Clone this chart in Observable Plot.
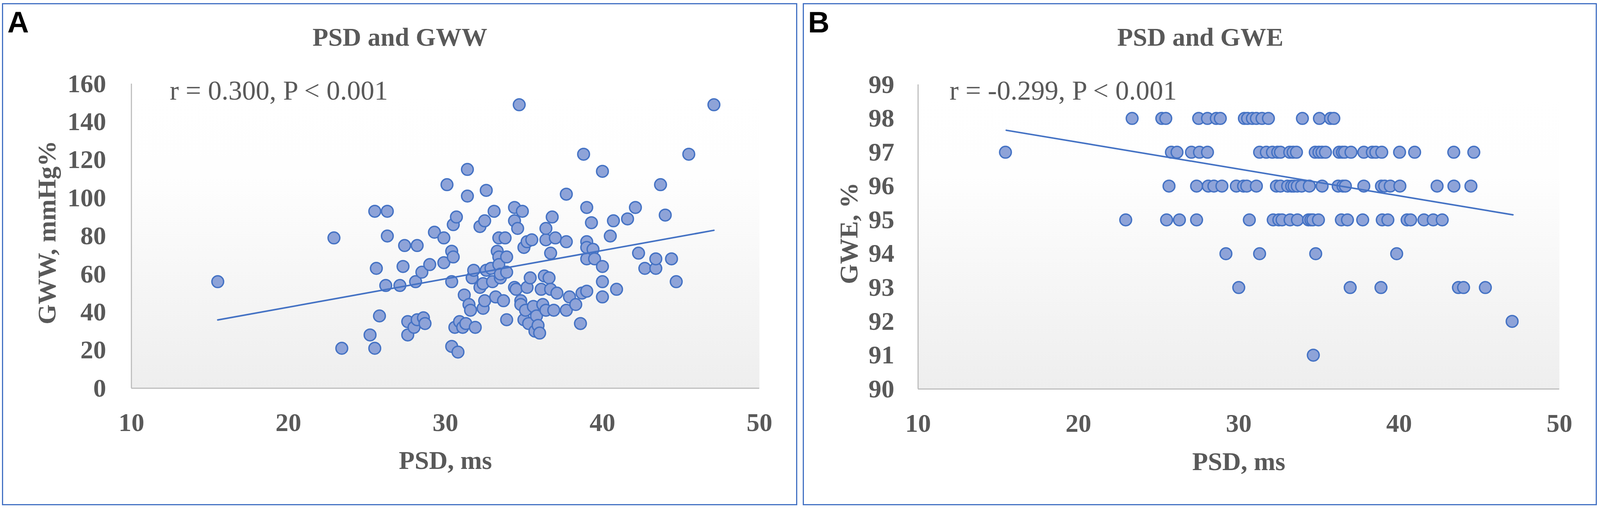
<!DOCTYPE html>
<html>
<head>
<meta charset="utf-8">
<script src="https://cdn.jsdelivr.net/npm/d3@7"></script>
<script src="https://cdn.jsdelivr.net/npm/@observablehq/plot@0.6"></script>
<style>
html, body { margin: 0; padding: 0; background: #ffffff; overflow: hidden; }
#page { position: absolute; left: 0; top: 0; overflow: hidden; background: #ffffff; }
.chart { position: absolute; top: 0; }
.panel { position: absolute; border-style: solid; border-color: #4472c4; box-sizing: border-box; pointer-events: none; }
.txt { position: absolute; white-space: nowrap; line-height: 1; }
.title { font-family: "Liberation Serif", "Times New Roman", serif; font-weight: bold; color: #595959; text-align: center; }
.stat { font-family: "Liberation Serif", "Times New Roman", serif; color: #595959; }
.tag { font-family: "Liberation Sans", Arial, sans-serif; font-weight: bold; color: #000000; }
</style>
</head>
<body>
<div id="page"></div>
<script>
// ---------- data ----------
const xTicks = [10, 20, 30, 40, 50];
const yTicksA = [0, 20, 40, 60, 80, 100, 120, 140, 160];
const yTicksB = [90, 91, 92, 93, 94, 95, 96, 97, 98, 99];

const panelTags = ["A", "B"];
const panelTitles = ["PSD and GWW", "PSD and GWE"];
const statTexts = ["r = 0.300, P < 0.001", "r = -0.299, P < 0.001"];
const xLabel = "PSD, ms";
const yLabelA = "GWW, mmHg%";
const yLabelB = "GWE, %";

// Panel A: [PSD (ms), GWW (mmHg%)]
const gwwPoints = [
  [15.5,56],[22.9,79],[23.4,21],[25.2,28],[25.5,21],[25.5,93],[26.3,93],[25.6,63],[25.8,38],[26.2,54],
  [26.3,80],[27.1,54],[27.4,75],[27.3,64],[27.6,35],[27.6,28],[28.0,32],[28.2,75],[28.1,56],[28.2,36],
  [28.5,61],[28.6,37],[28.7,34],[29.0,65],[29.3,82],[29.9,79],[29.9,66],[30.1,107],[30.4,72],[30.5,69],
  [30.5,86],[30.7,90],[30.4,56],[30.4,22],[30.8,19],[30.6,32],[30.9,35],[31.1,32],[31.2,49],[31.4,115],
  [31.4,101],[31.5,44],[31.3,34],[31.6,41],[31.7,58],[31.8,62],[31.9,32],[32.2,85],[32.5,88],[32.2,53],
  [32.4,55],[32.4,42],[32.5,46],[32.6,104],[32.6,62],[32.9,63],[33.0,56],[33.1,93],[33.2,48],[33.3,72],
  [33.4,79],[33.4,69],[33.4,65],[33.5,58],[33.5,60],[33.7,46],[33.8,79],[33.9,69],[33.9,61],[33.9,36],
  [34.4,95],[34.4,88],[34.6,84],[34.4,53],[34.5,52],[34.7,149],[34.8,46],[34.8,44],[34.9,93],[35.0,74],
  [35.0,36],[35.1,41],[35.2,53],[35.2,77],[35.3,34],[35.4,58],[35.5,78],[35.6,43],[35.7,30],[35.8,38],
  [35.9,33],[36.0,29],[36.1,52],[36.2,44],[36.3,59],[36.4,41],[36.4,78],[36.4,84],[36.6,58],[36.7,71],
  [36.7,52],[36.8,90],[36.9,41],[37.0,79],[37.1,50],[37.7,41],[37.7,77],[37.7,102],[37.9,48],[38.3,44],
  [38.6,34],[38.7,50],[38.8,123],[39.0,95],[39.0,77],[39.0,74],[39.0,68],[39.0,51],[39.3,87],[39.4,73],
  [39.5,68],[40.0,114],[40.0,64],[40.0,56],[40.0,48],[40.5,80],[40.7,88],[40.9,52],[41.6,89],[42.1,95],
  [42.3,71],[42.7,63],[43.4,63],[43.4,68],[43.7,107],[44.0,91],[44.4,68],[44.7,56],[45.5,123],[47.1,149]
];

// Panel B: GWE levels (%) and the PSD values (ms) of the points on each level
const gweLevels = [98, 97, 96, 95, 94, 93, 92, 91];
const psdByGwe = [
  [23.35,25.2,25.45,27.5,28.05,28.6,28.85,30.35,30.55,30.85,31.1,31.45,31.85,33.97,35.03,35.72,35.93],
  [15.45,25.8,26.15,27.05,27.55,28.05,31.3,31.72,32.1,32.43,32.6,33.18,33.39,33.6,34.77,35.0,35.19,35.41,
   36.26,36.47,36.6,37.0,37.8,38.33,38.55,38.92,40.03,40.97,43.41,44.66],
  [25.65,27.37,28.1,28.45,28.95,29.85,30.3,30.5,31.1,32.35,32.6,33.05,33.3,33.45,33.65,33.92,34.4,35.2,
   36.2,36.5,36.65,37.8,38.9,39.1,39.45,40.05,42.37,43.42,44.48],
  [22.95,25.5,26.3,27.37,30.66,32.15,32.5,32.7,33.2,33.66,34.35,34.5,34.62,34.97,36.4,36.78,37.73,38.95,
   39.3,40.5,40.72,41.55,42.13,42.69],
  [29.2,31.3,34.8,39.85],
  [30.0,36.95,38.87,43.7,44.02,45.38],
  [47.05],
  [34.65]
];

// Fitted trend lines (end points)
const trendX = [15.5, 47.1];
const trendYA = [35.9, 83.0];
const trendYB = [97.65, 95.15];

// ---------- build tables ----------
const ptsA = gwwPoints.map(([x, y]) => ({x, y}));
const ptsB = gweLevels.flatMap((lvl, i) => psdByGwe[i].map(x => ({x, y: lvl})));
const lineA = trendX.map((x, i) => ({x, y: trendYA[i]}));
const lineB = trendX.map((x, i) => ({x, y: trendYB[i]}));

// ---------- layout (designed on a 4317x1300 canvas, fitted to the real viewport) ----------
const SX = (window.innerWidth || 4317) / 4317;
const SY = (window.innerHeight || 1300) / 1300;
const W = Math.round(4317 * SX), H = Math.round(1300 * SY);
const px = v => v * SX, py = v => v * SY;

const textGray = "#595959";
const serif = "Liberation Serif, Times New Roman, serif";
const dotFill = "#8ea3d8";
const blue = "#4472c4";
const axisGray = "#bfbfbf";
const FS = 66 * SY;

const page = document.getElementById("page");
page.style.width = W + "px";
page.style.height = H + "px";

function addDiv(cls, text, left, top, width, fontSize) {
  const d = document.createElement("div");
  d.className = cls;
  d.textContent = text;
  d.style.left = left + "px";
  d.style.top = top + "px";
  if (width != null) d.style.width = width + "px";
  if (fontSize != null) d.style.fontSize = fontSize + "px";
  page.appendChild(d);
  return d;
}

function gradientDefs(id) {
  return () => {
    const defs = document.createElementNS("http://www.w3.org/2000/svg", "defs");
    defs.innerHTML =
      `<linearGradient id="${id}" x1="0" y1="0" x2="0" y2="1">` +
      `<stop offset="0" stop-color="#ffffff"/>` +
      `<stop offset="0.3" stop-color="#fefefe"/>` +
      `<stop offset="1" stop-color="#eeeeee"/>` +
      `</linearGradient>`;
    return defs;
  };
}

function makePanel(cfg) {
  return Plot.plot({
    width: Math.round(px(cfg.width)),
    height: H,
    marginLeft: px(cfg.ml),
    marginRight: px(cfg.mr),
    marginTop: py(cfg.mt),
    marginBottom: py(cfg.mb),
    style: {background: "transparent", fontFamily: serif, fontSize: FS + "px", color: textGray, maxWidth: "none"},
    x: {domain: [10, 50]},
    y: {domain: cfg.yDomain},
    marks: [
      gradientDefs(cfg.gid),
      Plot.frame({fill: `url(#${cfg.gid})`, stroke: null}),
      Plot.ruleX([10], {stroke: axisGray, strokeWidth: 3}),
      Plot.ruleY([cfg.yDomain[0]], {stroke: axisGray, strokeWidth: 3}),
      Plot.axisX({ticks: xTicks, tickSize: 0, tickPadding: py(63), label: null, tickFormat: d => String(d),
        fill: textGray, fontWeight: "bold", fontSize: FS, fontFamily: serif}),
      Plot.axisY({ticks: cfg.yTicks, tickSize: 0, tickPadding: px(cfg.tp), label: null, tickFormat: d => String(d),
        fill: textGray, fontWeight: "bold", fontSize: FS, fontFamily: serif}),
      Plot.dot(cfg.pts, {x: "x", y: "y", r: 15 * SY, fill: dotFill, stroke: blue, strokeWidth: 3.5}),
      Plot.line(cfg.line, {x: "x", y: "y", stroke: blue, strokeWidth: 4}),
      Plot.text([xLabel], {frameAnchor: "bottom", lineAnchor: "bottom", textAnchor: "middle", dy: py(cfg.xdy),
        fill: textGray, fontWeight: "bold", fontSize: FS, fontFamily: serif}),
      Plot.text([cfg.yLabel], {frameAnchor: "left", lineAnchor: "bottom", textAnchor: "middle", rotate: -90,
        dx: px(cfg.ydx), dy: py(-9),
        fill: textGray, fontWeight: "bold", fontSize: FS, fontFamily: serif})
    ]
  });
}

// charts
const panels = [
  {left: 0, width: 2160, ml: 354, mr: 111, mt: 214, mb: 307, yDomain: [0, 160], yTicks: yTicksA, tp: 68,
   pts: ptsA, line: lineA, gid: "gradA", xdy: 206, ydx: -205, yLabel: yLabelA,
   box: [5, 8, 2146, 1285], tag: [20, 19], title: [8, 2142], stat: 458},
  {left: 2160, width: 2157, ml: 317, mr: 110, mt: 216, mb: 305, yDomain: [90, 99], yTicks: yTicksB, tp: 64,
   pts: ptsB, line: lineB, gid: "gradB", xdy: 207, ydx: -164, yLabel: yLabelB,
   box: [2166, 8, 2143, 1285], tag: [2180, 19], title: [2168, 2141], stat: 2562}
];

panels.forEach((cfg) => {
  const holder = document.createElement("div");
  holder.className = "chart";
  holder.style.left = px(cfg.left) + "px";
  holder.style.width = Math.round(px(cfg.width)) + "px";
  holder.style.height = H + "px";
  holder.appendChild(makePanel(cfg));
  page.appendChild(holder);
});

panels.forEach((cfg, i) => {
  const b = document.createElement("div");
  b.className = "panel";
  b.style.left = px(cfg.box[0]) + "px";
  b.style.top = py(cfg.box[1]) + "px";
  b.style.width = px(cfg.box[2]) + "px";
  b.style.height = py(cfg.box[3]) + "px";
  b.style.borderWidth = "3px";
  page.appendChild(b);

  addDiv("txt tag", panelTags[i], px(cfg.tag[0]), py(cfg.tag[1]), null, 76 * SY);
  addDiv("txt title", panelTitles[i], px(cfg.title[0]), py(62), px(cfg.title[1]), 66 * SY);
  addDiv("txt stat", statTexts[i], px(cfg.stat), py(197), null, 70 * SY);
});
</script>
</body>
</html>
